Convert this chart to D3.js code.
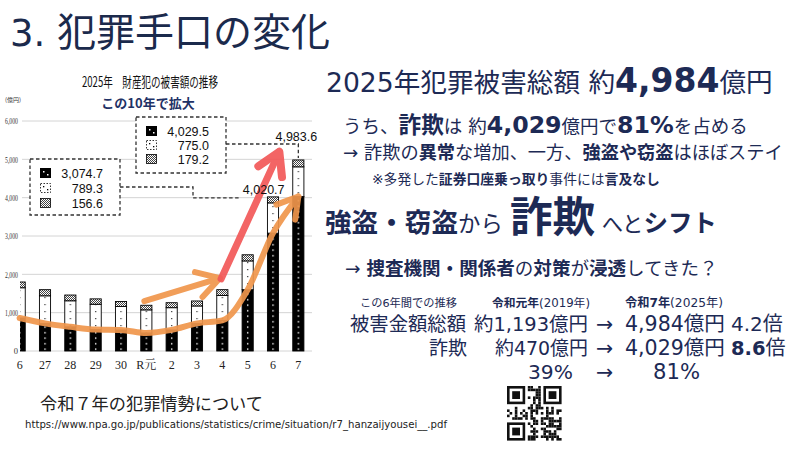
<!DOCTYPE html>
<html><head><meta charset="utf-8">
<script src="https://cdn.jsdelivr.net/npm/d3@7"></script>
<style>body{margin:0;background:#fff} svg{display:block}</style>
</head><body>
<svg id="c" width="800" height="450"></svg>
<script>
// ---------- data ----------
const categories = ["6","27","28","29","30","R元","2","3","4","5","6","7"];
const fraud  = [860, 720, 630, 560, 550, 470, 550, 720, 800, 1600, 3074.7, 4029.5];
const theft  = [790, 720, 680, 660, 610, 603, 580, 455, 650, 750, 789.3, 775.0];
const other  = [150, 160, 150, 140, 130, 120, 130, 130, 150, 160, 156.6, 179.2];
const totals = [1800, 1600, 1460, 1360, 1290, 1193, 1260, 1305, 1600, 2510, 4020.7, 4983.6];
const yTicks = [0, 1000, 2000, 3000, 4000, 5000, 6000];
// annotation arrows in [category index, value]
const flatArrow = {from: [4.92, 1300], to: [7.9, 1900]};
const riseArrow = {from: [7.95, 1880], to: [10.25, 5200]};
const url = "https://www.npa.go.jp/publications/statistics/crime/situation/r7_hanzaijyousei__.pdf";

// ---------- setup ----------
const svg = d3.select("#c");
const NAVY = "#1d2a55";
const FONT = "'DejaVu Sans','Noto Sans CJK JP',sans-serif";
const ORANGE = "#F0964C", RED = "#F25858";

const x = d3.scaleBand().domain(d3.range(categories.length)).range([7, 311]).paddingInner(0.56).paddingOuter(0.28);
const y = d3.scaleLinear().domain([0, 6000]).range([351, 121]);
const bw = x.bandwidth();
const cx = i => x(i) + bw / 2;
const px = f => x(0) + bw / 2 + f * x.step();

const defs = svg.append("defs");
// patterns
const pf = defs.append("pattern").attr("id", "pFraud").attr("patternUnits", "userSpaceOnUse")
  .attr("x", x(0)).attr("y", 0).attr("width", x.step()).attr("height", 5.5);
pf.append("rect").attr("width", x.step()).attr("height", 5.5).attr("fill", "#000");
pf.append("rect").attr("x", bw / 2 - 0.7).attr("y", 2).attr("width", 1.4).attr("height", 1.4).attr("fill", "#fff");
const pt = defs.append("pattern").attr("id", "pTheft").attr("patternUnits", "userSpaceOnUse")
  .attr("x", x(0)).attr("y", 0).attr("width", x.step()).attr("height", 7);
pt.append("rect").attr("width", x.step()).attr("height", 7).attr("fill", "#fff");
pt.append("rect").attr("x", bw / 2 - 0.6).attr("y", 3).attr("width", 1.2).attr("height", 1.2).attr("fill", "#333");
const po = defs.append("pattern").attr("id", "pOther").attr("patternUnits", "userSpaceOnUse")
  .attr("width", 2).attr("height", 2);
po.append("rect").attr("width", 2).attr("height", 2).attr("fill", "#fff");
po.append("rect").attr("width", 1).attr("height", 1).attr("fill", "#444");
po.append("rect").attr("x", 1).attr("y", 1).attr("width", 1).attr("height", 1).attr("fill", "#444");

defs.append("clipPath").attr("id", "plotClip").append("rect").attr("x", 20).attr("y", 0).attr("width", 300).attr("height", 360);

function chevron(id, color, len, half, sw) {
  defs.append("marker").attr("id", id).attr("markerUnits", "userSpaceOnUse")
    .attr("viewBox", `${-len - 10} ${-half - 10} ${len + 20} ${2 * half + 20}`)
    .attr("markerWidth", len + 20).attr("markerHeight", 2 * half + 20)
    .attr("refX", 0).attr("refY", 0).attr("orient", "auto")
    .append("path").attr("d", `M${-len},${-half} L0,0 L${-len},${half}`)
    .attr("fill", "none").attr("stroke", color).attr("stroke-width", sw)
    .attr("stroke-linecap", "round").attr("stroke-linejoin", "round");
}
chevron("mOr", ORANGE, 22, 13, 6);
chevron("mOr2", ORANGE, 20, 12, 6);
chevron("mRed", RED, 22, 13, 8);

// ---------- rich text helper ----------
function rich(xp, yp, parts, opts = {}) {
  const t = svg.append("text").attr("x", xp).attr("y", yp)
    .attr("fill", opts.fill || NAVY).attr("text-anchor", opts.anchor || "start")
    .style("font-family", opts.font || FONT);
  parts.forEach(p => t.append("tspan").text(p.t).attr("font-size", p.s || opts.s)
    .attr("font-weight", p.b ? 700 : 400));
  if (opts.width) {
    const w = t.node().getBBox().width;
    const k = opts.width / w;
    t.selectAll("tspan").attr("font-size", function () { return +this.getAttribute("font-size") * k; });
  }
  return t;
}

// ---------- chart ----------
const chart = svg.append("g");
// gridlines
chart.selectAll("line.grid").data(yTicks).join("line")
  .attr("x1", 22).attr("x2", 312).attr("y1", d => y(d)).attr("y2", d => y(d))
  .attr("stroke", "#d4d4d4").attr("stroke-width", 1);
// y axis labels
const yAx = chart.append("g").attr("transform", "translate(19,0)")
  .call(d3.axisLeft(y).tickValues(yTicks).tickFormat(d3.format(",")).tickSize(0).tickPadding(1));
yAx.select(".domain").remove();
yAx.selectAll("text").style("font-family", "'Liberation Serif',serif").attr("font-size", 8.5).attr("fill", "#333")
  .each(function (d) { if (d >= 1000) d3.select(this).attr("textLength", 13).attr("lengthAdjust", "spacingAndGlyphs"); });
chart.append("text").attr("x", 5).attr("y", 102).text("(億円)")
  .style("font-family", "'Noto Sans CJK JP'").attr("font-size", 6).attr("fill", "#333");

// bars
const rows = categories.map((c, i) => ({i, fraud: fraud[i], theft: theft[i], other: other[i]}));
const stack = d3.stack().keys(["fraud", "theft", "other"])(rows);
const fills = {fraud: "url(#pFraud)", theft: "url(#pTheft)", other: "url(#pOther)"};
const barG = chart.append("g").attr("clip-path", "url(#plotClip)");
stack.forEach(layer => {
  barG.selectAll(null).data(layer).join("rect")
    .attr("x", d => x(d.data.i)).attr("width", bw)
    .attr("y", d => y(d[1])).attr("height", d => y(d[0]) - y(d[1]))
    .attr("fill", fills[layer.key]).attr("stroke", "#000").attr("stroke-width", 0.9);
});

// x labels
const xAx = chart.append("g").attr("transform", `translate(0,${y(0)})`)
  .call(d3.axisBottom(x).tickFormat(i => categories[i]).tickSize(0).tickPadding(9));
xAx.select(".domain").remove();
xAx.selectAll("text").style("font-family", "'Liberation Serif','Noto Serif CJK JP',serif").attr("font-size", 12).attr("fill", "#222");

// chart titles
chart.append("text").attr("x", 82).attr("y", 87).text("2025年　財産犯の被害額の推移")
  .style("font-family", "'Noto Sans CJK JP'").attr("font-size", 14).attr("fill", "#111")
  .attr("textLength", 136).attr("lengthAdjust", "spacingAndGlyphs");
chart.append("text").attr("x", 148).attr("y", 108).attr("text-anchor", "middle").text("この10年で拡大")
  .style("font-family", "'Noto Sans CJK JP'").attr("font-weight", 700).attr("font-size", 13).attr("fill", "#1f3266");

// orange trend curve along fraud series
const line = d3.line().x(i => cx(i)).y(i => y(fraud[i])).curve(d3.curveMonotoneX);
chart.append("path").attr("d", line(d3.range(categories.length)))
  .attr("fill", "none").attr("stroke", ORANGE).attr("stroke-width", 6).attr("stroke-linecap", "round")
  .attr("opacity", 0.92).attr("marker-end", "url(#mOr2)");
// straight arrows
function arrow(a, color, marker, sw) {
  chart.append("line").attr("x1", px(a.from[0])).attr("y1", y(a.from[1]))
    .attr("x2", px(a.to[0])).attr("y2", y(a.to[1]))
    .attr("stroke", color).attr("stroke-width", sw).attr("stroke-linecap", "round")
    .attr("opacity", 0.92).attr("marker-end", `url(#${marker})`);
}
arrow(flatArrow, ORANGE, "mOr", 6);
arrow(riseArrow, RED, "mRed", 7);

// annotation boxes
function swatch(g, xs, yc, key) {
  if (key === "fraud") {
    g.append("rect").attr("x", xs).attr("y", yc - 5).attr("width", 11).attr("height", 10).attr("fill", "#000");
    g.append("rect").attr("x", xs + 3).attr("y", yc - 2).attr("width", 1.5).attr("height", 1.5).attr("fill", "#fff");
    g.append("rect").attr("x", xs + 7).attr("y", yc + 1).attr("width", 1.5).attr("height", 1.5).attr("fill", "#fff");
  } else if (key === "theft") {
    g.append("rect").attr("x", xs + 0.5).attr("y", yc - 4.5).attr("width", 10).attr("height", 9).attr("fill", "#fff")
      .attr("stroke", "#000").attr("stroke-width", 0.8).attr("stroke-dasharray", "1.5,1.5");
    g.append("rect").attr("x", xs + 3).attr("y", yc - 2).attr("width", 1.3).attr("height", 1.3).attr("fill", "#000");
    g.append("rect").attr("x", xs + 7).attr("y", yc + 1).attr("width", 1.3).attr("height", 1.3).attr("fill", "#000");
  } else {
    g.append("rect").attr("x", xs + 0.5).attr("y", yc - 4.5).attr("width", 10).attr("height", 9)
      .attr("fill", "url(#pOther)").attr("stroke", "#000").attr("stroke-width", 0.8);
  }
}
function box(bx, by, i, rowY) {
  const g = chart.append("g");
  g.append("rect").attr("x", bx).attr("y", by).attr("width", 90).attr("height", 56)
    .attr("fill", "#fff").attr("stroke", "#333").attr("stroke-width", 1.3).attr("stroke-dasharray", "3.5,2.5");
  const vals = [["fraud", fraud[i]], ["theft", theft[i]], ["other", other[i]]];
  vals.forEach(([k, v], r) => {
    const yc = by + rowY[r];
    swatch(g, bx + 10, yc, k);
    g.append("text").attr("x", bx + 73).attr("y", yc + 4.5).attr("text-anchor", "end")
      .text(d3.format(",.1f")(v)).style("font-family", "'Liberation Sans',Arial,sans-serif")
      .attr("font-size", 12.5).attr("fill", "#111");
  });
  return g;
}
const i6 = 10, i7 = 11;
box(30, 159, i6, [14, 29, 44]);
box(136, 117, i7, [14, 28, 42]);
// leaders + total labels
const lab6 = chart.append("text").attr("x", cx(i6) + bw / 2 + 6).attr("y", y(totals[i6]) - 3)
  .attr("text-anchor", "end").text(d3.format(",.1f")(totals[i6]))
  .style("font-family", "'Liberation Sans',Arial,sans-serif").attr("font-size", 12.5).attr("fill", "#111");
const l6start = lab6.node().getBBox().x;
chart.append("path").attr("d", `M120,187 H193 V${y(totals[i6]) + 1} H${l6start - 2}`)
  .attr("fill", "none").attr("stroke", "#333").attr("stroke-width", 1.3).attr("stroke-dasharray", "3.5,2.5");
chart.append("text").attr("x", cx(i7) - 2).attr("y", y(totals[i7]) - 19)
  .attr("text-anchor", "middle").text(d3.format(",.1f")(totals[i7]))
  .style("font-family", "'Liberation Sans',Arial,sans-serif").attr("font-size", 12.5).attr("fill", "#111");
chart.append("path").attr("d", `M226,144 H${cx(i7)} V${y(totals[i7]) - 2}`)
  .attr("fill", "none").attr("stroke", "#333").attr("stroke-width", 1.3).attr("stroke-dasharray", "3.5,2.5");

// ---------- slide text ----------
rich(10, 46, [{t: "3. ", s: 36}, {t: "犯罪手口の変化", s: 38}], {width: 320, fill: "#1b2a4c"});
rich(326, 92, [{t: "2025年犯罪被害総額 約", s: 25}, {t: "4,984", s: 31, b: 1}, {t: "億円", s: 25}], {width: 447});
rich(343, 133, [{t: "うち、", s: 18}, {t: "詐欺", s: 22, b: 1}, {t: "は 約", s: 18}, {t: "4,029", s: 23, b: 1},
  {t: "億円で", s: 18}, {t: "81%", s: 23, b: 1}, {t: "を占める", s: 18}], {width: 405});
rich(343, 159, [{t: "→ 詐欺の", s: 17}, {t: "異常", s: 17, b: 1}, {t: "な増加、一方、", s: 17},
  {t: "強盗や窃盗", s: 17, b: 1}, {t: "はほぼステイ", s: 17}], {width: 440});
rich(372, 184, [{t: "※多発した", s: 13.5}, {t: "証券口座乗っ取り", s: 13.5, b: 1}, {t: "事件には", s: 13.5},
  {t: "言及なし", s: 13.5, b: 1}], {width: 288});
rich(325, 232, [{t: "強盗・窃盗", s: 25, b: 1}, {t: "から ", s: 21}, {t: "詐欺", s: 40, b: 1},
  {t: "  へと", s: 20}, {t: "シフト", s: 23, b: 1}], {width: 392});
rich(345, 275, [{t: "→ ", s: 17}, {t: "捜査機関・関係者", s: 17, b: 1}, {t: "の", s: 17}, {t: "対策", s: 17, b: 1},
  {t: "が", s: 17}, {t: "浸透", s: 17, b: 1}, {t: "してきた？", s: 17}], {width: 373});

// table
rich(360, 307, [{t: "この6年間での推移", s: 11}], {width: 97});
rich(492, 307, [{t: "令和元年", s: 11, b: 1}, {t: "(2019年)", s: 11}], {width: 98});
rich(625, 307, [{t: "令和7年", s: 11, b: 1}, {t: "(2025年)", s: 11}], {width: 98});
const R = 20.5;
rich(350, 331, [{t: "被害金額総額", s: R}], {width: 116});
rich(474, 331, [{t: "約1,193億円", s: R}], {width: 114});
rich(596, 331, [{t: "→", s: R}]);
rich(625, 331, [{t: "4,984億円", s: R}], {width: 100});
rich(731, 331, [{t: "4.2倍", s: 20}]);
rich(429, 355, [{t: "詐欺", s: R}], {width: 38});
rich(495, 355, [{t: "約470億円", s: R}], {width: 93});
rich(596, 355, [{t: "→", s: R}]);
rich(625, 355, [{t: "4,029億円", s: R}], {width: 100});
rich(731, 355, [{t: "8.6", s: 19.5, b: 1}, {t: "倍", s: 20}]);
rich(528, 379, [{t: "39%", s: R}], {width: 45});
rich(596, 379, [{t: "→", s: R}]);
rich(653, 379, [{t: "81%", s: R}], {width: 47});

// footer
rich(40, 410, [{t: "令和７年の犯罪情勢について", s: 17}], {width: 223, fill: "#222"});
rich(25, 428, [{t: url, s: 10}], {width: 423, fill: "#222"});

// QR-like block (decorative)
const qr = svg.append("g").attr("transform", "translate(507,386)");
const N = 21, m = 2.6;
const cells = [];
for (let r = 0; r < N; r++) for (let c = 0; c < N; c++) {
  const inFinder = (r < 8 && c < 8) || (r < 8 && c >= N - 8) || (r >= N - 8 && c < 8);
  if (inFinder) continue;
  const h = (((r + 1) * 73856093) ^ ((c + 1) * 19349663)) >>> 0;
  if ((h % 97) < 50) cells.push([r, c]);
}
qr.selectAll("rect.m").data(cells).join("rect").attr("x", d => d[1] * m).attr("y", d => d[0] * m)
  .attr("width", m).attr("height", m).attr("fill", "#111");
[[0, 0], [0, N - 7], [N - 7, 0]].forEach(([r, c]) => {
  qr.append("rect").attr("x", c * m + m / 2).attr("y", r * m + m / 2).attr("width", 6 * m).attr("height", 6 * m)
    .attr("fill", "none").attr("stroke", "#111").attr("stroke-width", m);
  qr.append("rect").attr("x", (c + 2) * m).attr("y", (r + 2) * m).attr("width", 3 * m).attr("height", 3 * m).attr("fill", "#111");
});
</script>
</body></html>
